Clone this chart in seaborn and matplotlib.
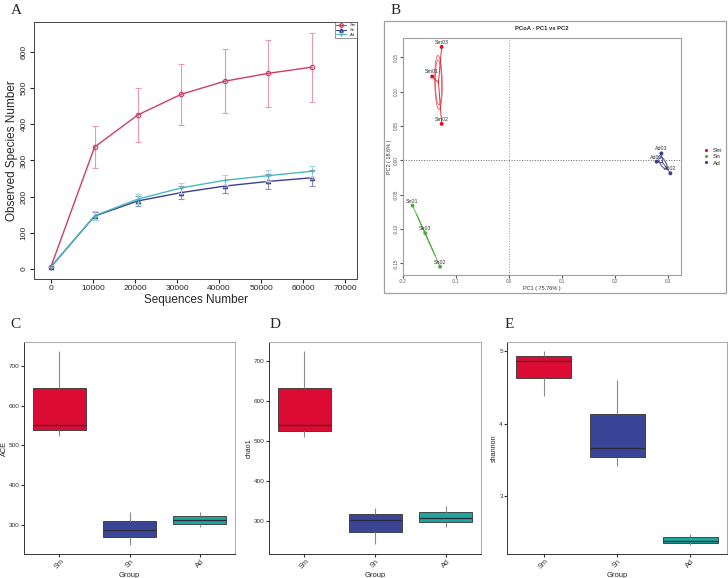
import numpy as np
import pandas as pd
import seaborn as sns
import matplotlib.pyplot as plt
from matplotlib.patches import Ellipse, Rectangle
from matplotlib.lines import Line2D

groups = ['Sm', 'Sn', 'Ad']

# A: rarefaction curves (mean +/- sd)
seq_depth = [0, 10400, 20700, 31000, 41300, 51700, 62000]
obs_sm = [5, 337, 426, 483, 519, 541, 558]
obs_sn = [5, 146, 188, 211, 229, 242, 252]
obs_ad = [5, 147, 193, 224, 245, 258, 270]
err_sm = [0, 58, 75, 85, 88, 92, 95]
err_sn = [0, 12, 13, 19, 18, 20, 22]
err_ad = [0, 12, 14, 14, 14, 15, 15]

# B: PCoA
samples = ['Sm01', 'Sm02', 'Sm03', 'Sn01', 'Sn02', 'Sn03', 'Ad01', 'Ad02', 'Ad03']
sample_group = ['Sm', 'Sm', 'Sm', 'Sn', 'Sn', 'Sn', 'Ad', 'Ad', 'Ad']
pc1 = [-0.145, -0.127, -0.127, -0.182, -0.130, -0.158, 0.279, 0.305, 0.288]
pc2 = [0.122, 0.053, 0.165, -0.066, -0.155, -0.106, -0.002, -0.019, 0.010]

# C-E: alpha diversity per sample
ace = [524, 551, 738, 250, 288, 333, 295, 312, 332]
chao1 = [509, 540, 725, 242, 303, 334, 286, 309, 338]
shannon = [4.39, 4.87, 5.01, 3.41, 3.67, 4.60, 2.33, 2.38, 2.48]

line_cols = {'Sm': '#cf3d62', 'Sn': '#3d3f8f', 'Ad': '#4cb8bc'}
err_cols = {'Sm': '#e79aae', 'Sn': '#8d8fbf', 'Ad': '#9fd8da'}
pcoa_cols = {'Sm': '#e0101e', 'Sn': '#4caf3a', 'Ad': '#3a3d8f'}
box_cols = {'Sm': '#db0b33', 'Sn': '#3b4597', 'Ad': '#1fa59d'}

sns.set_style("white")
plt.rcParams['font.family'] = ['Liberation Sans', 'DejaVu Sans']

W, H = 728, 578
fig = plt.figure(figsize=(W / 100, H / 100), dpi=100)


def px_axes(x0, y0, x1, y1):
    return fig.add_axes([x0 / W, 1 - y1 / H, (x1 - x0) / W, (y1 - y0) / H])


# ---------------- A ----------------
ax_a = px_axes(34, 22, 357, 279)
df_a = pd.DataFrame({
    'depth': seq_depth * 3,
    'obs': obs_sm + obs_sn + obs_ad,
    'err': err_sm + err_sn + err_ad,
    'group': ['Sm'] * 7 + ['Sn'] * 7 + ['Ad'] * 7,
})
markers_a = {'Sm': 'o', 'Sn': '^', 'Ad': '+'}
handles = []
for g in groups:
    sub = df_a[df_a['group'] == g]
    ax_a.errorbar(sub['depth'], sub['obs'], yerr=sub['err'], fmt='none',
                  ecolor=err_cols[g], elinewidth=0.8, capsize=2, capthick=0.8)
    sns.lineplot(data=sub, x='depth', y='obs', color=line_cols[g], marker=markers_a[g],
                 markersize=3.2, mfc='none', mec=line_cols[g], mew=0.8, lw=1.0, ax=ax_a)
    handles.append(Line2D([], [], color=line_cols[g], marker=markers_a[g], ms=2.5,
                          mfc='none', lw=0.8, label=g))
ax_a.set_xlim(-4000, 72800)
ax_a.set_ylim(-28, 683)
ax_a.set_xticks(range(0, 70001, 10000))
ax_a.set_yticks(range(0, 601, 100))
ax_a.tick_params(labelsize=6, length=3, direction='out', bottom=True, left=True, pad=1.5)
plt.setp(ax_a.get_yticklabels(), rotation=90, va='center')
ax_a.set_xlabel('Sequences Number', fontsize=8.5, labelpad=1)
ax_a.set_ylabel('Observed Species Number', fontsize=8.5, labelpad=2)
for s in ax_a.spines.values():
    s.set_color('#444444')
    s.set_linewidth(0.7)
leg = ax_a.legend(handles=handles, loc='upper right', fontsize=3, frameon=True,
                  handlelength=2.5, borderaxespad=0, borderpad=0.3, labelspacing=0.2,
                  fancybox=False)
leg.get_frame().set_edgecolor('#444444')
leg.get_frame().set_linewidth(0.5)

# ---------------- B ----------------
fig.add_artist(Rectangle((384 / W, 1 - 293 / H), (726 - 384) / W, (293 - 21) / H,
                         transform=fig.transFigure, fill=False, ec='#a0a0a0', lw=0.9))
ax_b = px_axes(403, 38, 681, 275)
df_b = pd.DataFrame({'sample': samples, 'group': sample_group, 'PC1': pc1, 'PC2': pc2})
ax_b.axhline(0, ls=':', color='#666666', lw=0.7)
ax_b.axvline(0, ls=':', color='#999999', lw=0.7)
for g in groups:
    sub = df_b[df_b['group'] == g]
    pts = sub[['PC1', 'PC2']].to_numpy()
    cen = pts.mean(axis=0)
    for p in pts:
        ax_b.plot([p[0], cen[0]], [p[1], cen[1]], color=pcoa_cols[g], lw=0.6)
    cov = np.cov(pts.T) / len(pts)
    vals, vecs = np.linalg.eigh(cov)
    ang = np.degrees(np.arctan2(vecs[1, 1], vecs[0, 1]))
    for k in (1.0, 1.2):
        ax_b.add_patch(Ellipse(cen, 2 * k * np.sqrt(vals[1]), 2 * k * np.sqrt(vals[0]),
                               angle=ang, fill=False, ec=pcoa_cols[g], lw=0.5, alpha=0.8))
sns.scatterplot(data=df_b, x='PC1', y='PC2', hue='group', hue_order=groups,
                palette=pcoa_cols, s=8, edgecolor='none', ax=ax_b, zorder=3)
for _, r in df_b.iterrows():
    ax_b.annotate(r['sample'], (r['PC1'], r['PC2']), xytext=(0, 1.5),
                  textcoords='offset points', ha='center', va='bottom',
                  fontsize=3.8, color='#333333')
ax_b.set_xlim(-0.2, 0.325)
ax_b.set_ylim(-0.167, 0.178)
ax_b.set_xticks([-0.2, -0.1, 0.0, 0.1, 0.2, 0.3])
ax_b.set_xticklabels(['-0.2', '-0.1', '0.0', '0.1', '0.2', '0.3'])
ax_b.set_yticks([-0.15, -0.10, -0.05, 0.0, 0.05, 0.10, 0.15])
ax_b.set_yticklabels(['-0.15', '-0.10', '-0.05', '0.00', '0.05', '0.10', '0.15'])
ax_b.tick_params(labelsize=3.3, length=2, pad=1, bottom=True, left=True, colors='#555555')
plt.setp(ax_b.get_yticklabels(), rotation=90, va='center')
ax_b.set_xlabel('PC1 ( 75.76% )', fontsize=4, labelpad=1, color='#333333')
ax_b.set_ylabel('PC2 ( 18.6% )', fontsize=4, labelpad=1, color='#333333')
ax_b.set_title('PCoA - PC1 vs PC2', fontsize=4.2, fontweight='bold', pad=6)
for s in ax_b.spines.values():
    s.set_color('#a0a0a0')
    s.set_linewidth(0.8)
sns.move_legend(ax_b, 'center left', bbox_to_anchor=(1.045, 0.5), frameon=False,
                title=None, fontsize=4.6, handletextpad=0.1, labelspacing=0.15,
                markerscale=0.8)

# ---------------- C, D, E ----------------
df_box = pd.DataFrame({'Group': sample_group, 'ACE': ace, 'chao1': chao1, 'shannon': shannon})
box_specs = [
    ('ACE', (24, 342, 235, 554), (227, 760), [300, 400, 500, 600, 700]),
    ('chao1', (269, 342, 481, 554), (218, 747), [300, 400, 500, 600, 700]),
    ('shannon', (507, 342, 727, 554), (2.20, 5.13), [3, 4, 5]),
]
for col, rect, ylim, yt in box_specs:
    ax = px_axes(*rect)
    sns.boxplot(data=df_box, x='Group', y=col, hue='Group', order=groups,
                hue_order=groups, palette=box_cols, saturation=1, width=0.75, whis=np.inf,
                linewidth=0.6, linecolor='#333333', legend=False, ax=ax,
                whiskerprops=dict(color='#8a8a8a', linewidth=0.8),
                capprops=dict(visible=False),
                medianprops=dict(color='#2a2a3a', linewidth=0.9))
    ax.set_ylim(*ylim)
    ax.set_yticks(yt)
    ax.tick_params(axis='y', labelsize=4.6, length=2, pad=1, left=True, colors='#333333')
    ax.tick_params(axis='x', labelsize=5.3, length=2, pad=1, bottom=True, colors='#333333')
    plt.setp(ax.get_xticklabels(), rotation=45, ha='center')
    ax.set_xlabel('Group', fontsize=5.5, labelpad=0.5)
    ax.set_ylabel(col, fontsize=5.2, labelpad=1)
    for name, s in ax.spines.items():
        s.set_linewidth(0.7)
        s.set_color('#333333' if name in ('left', 'bottom') else '#aaaaaa')

# panel letters
for letter, x, y in [('A', 11, 4), ('B', 391, 4), ('C', 10, 318), ('D', 270, 318), ('E', 505, 318)]:
    fig.text(x / W, 1 - y / H, letter, fontsize=11, family='Liberation Serif', va='top')

fig.savefig('out.png', dpi=100)
